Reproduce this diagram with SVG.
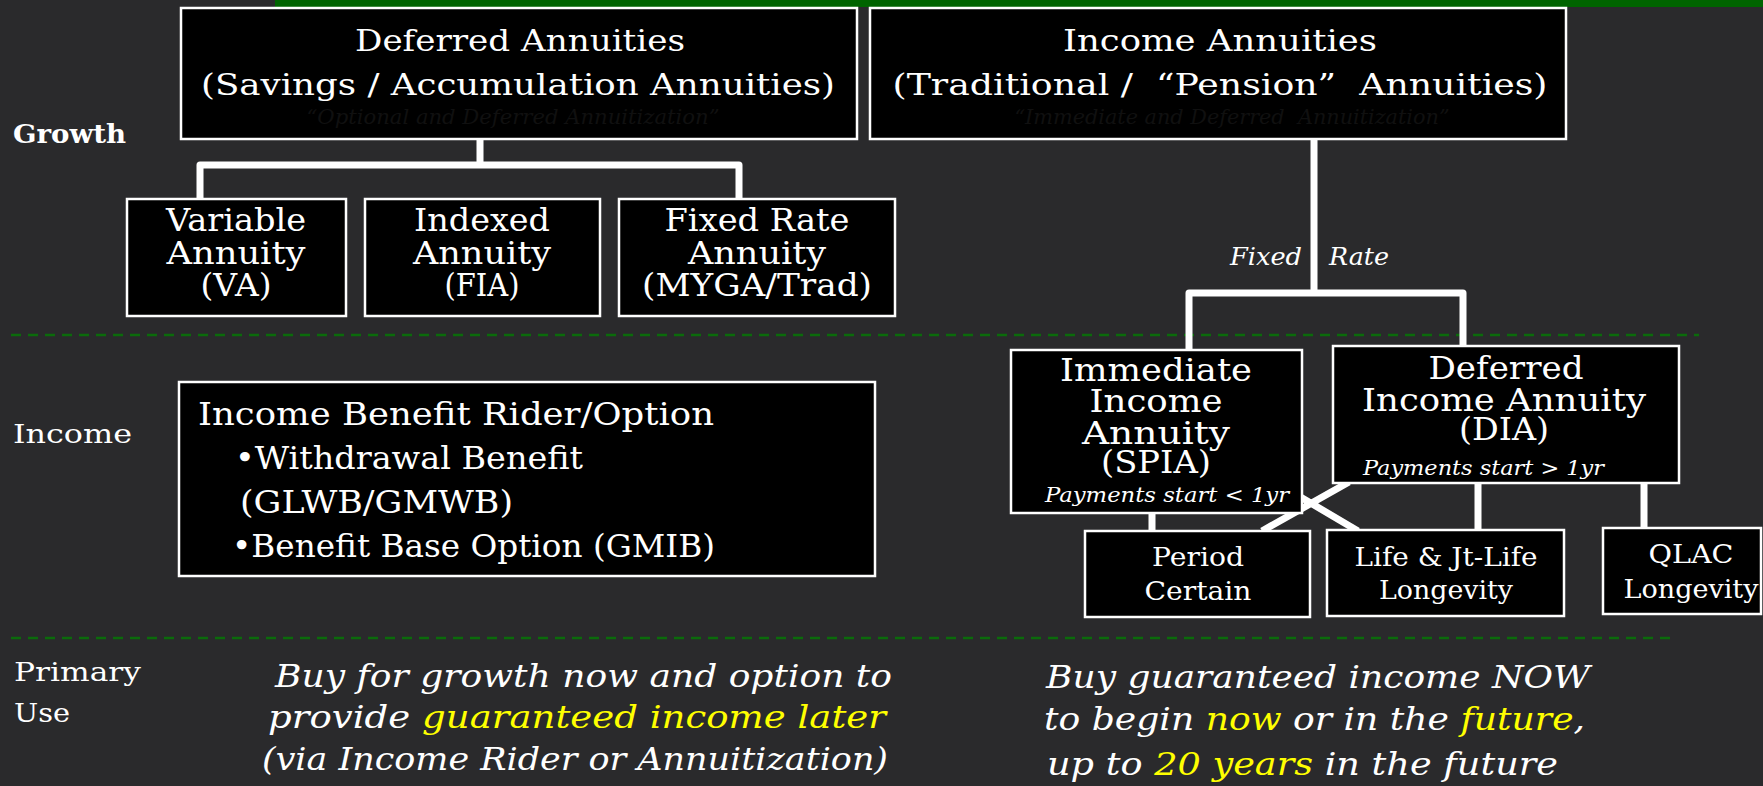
<svg xmlns="http://www.w3.org/2000/svg" width="1763" height="786" viewBox="0 0 1763 786">
<style>
.bg{fill:#2a2a2c}
.box{fill:#000;stroke:#fff;stroke-width:2.5}
.t{font-family:'DejaVu Serif','Liberation Serif',serif;fill:#fff}
.c{text-anchor:middle}
.it{font-style:italic}
.y{fill:#ffff00}
.faint{fill:#101010;font-style:italic}
.conn{fill:none;stroke:#fff;stroke-width:7;stroke-linejoin:round}
.dash{fill:none;stroke:#0b6b0b;stroke-width:2.5;stroke-dasharray:10 7}
</style>
<rect class="bg" x="0" y="0" width="1763" height="786"/>
<rect x="275" y="0" width="1488" height="7" fill="#006400"/>

<g id="dividers">
<line class="dash" x1="11" y1="335" x2="1699" y2="335"/>
<line class="dash" x1="11" y1="638" x2="1673" y2="638"/>
</g>

<g id="row-labels">
<text class="t" x="13" y="143" font-size="26" font-weight="bold" textLength="113" lengthAdjust="spacingAndGlyphs">Growth</text>
<text class="t" x="13" y="443" font-size="26" textLength="119" lengthAdjust="spacingAndGlyphs">Income</text>
<text class="t" x="14" y="681" font-size="26" textLength="127" lengthAdjust="spacingAndGlyphs">Primary</text>
<text class="t" x="14" y="722" font-size="26" textLength="56" lengthAdjust="spacingAndGlyphs">Use</text>
</g>

<g id="connectors">
<path class="conn" d="M480,139 V165 M200,199 V165 H739 V199"/>
<path class="conn" d="M1314,139 V293 M1189,350 V293 H1463 V346"/>
<path class="conn" d="M1152,512 V531 M1478,483 V530 M1644,483 V528"/>
<path class="conn" d="M1349,482 L1262,531 M1292,492 L1358,531"/>
<text class="t it" x="1230" y="265" font-size="25" textLength="72" lengthAdjust="spacingAndGlyphs">Fixed</text>
<text class="t it" x="1329" y="265" font-size="25" textLength="60" lengthAdjust="spacingAndGlyphs">Rate</text>
</g>

<g id="deferred-annuities">
<rect class="box" x="181" y="8" width="676" height="131"/>
<text class="t c" x="520" y="51" font-size="30" textLength="330" lengthAdjust="spacingAndGlyphs">Deferred Annuities</text>
<text class="t c" x="518" y="95" font-size="30" textLength="634" lengthAdjust="spacingAndGlyphs">(Savings / Accumulation Annuities)</text>
<text class="t c faint" x="513" y="124" font-size="20" textLength="413" lengthAdjust="spacingAndGlyphs">“Optional and Deferred Annuitization”</text>
</g>

<g id="income-annuities">
<rect class="box" x="870" y="8" width="696" height="131"/>
<text class="t c" x="1220" y="51" font-size="30" textLength="314" lengthAdjust="spacingAndGlyphs">Income Annuities</text>
<text class="t c" x="1220" y="95" font-size="30" textLength="655" lengthAdjust="spacingAndGlyphs" xml:space="preserve">(Traditional /  “Pension”  Annuities)</text>
<text class="t c faint" x="1232" y="124" font-size="20" textLength="435" lengthAdjust="spacingAndGlyphs" xml:space="preserve">“Immediate and Deferred  Annuitization”</text>
</g>

<g id="variable-annuity">
<rect class="box" x="127" y="199" width="219" height="117"/>
<text class="t c" x="236" y="231" font-size="32" textLength="140" lengthAdjust="spacingAndGlyphs">Variable</text>
<text class="t c" x="236" y="264" font-size="32" textLength="139" lengthAdjust="spacingAndGlyphs">Annuity</text>
<text class="t c" x="236" y="296" font-size="32" textLength="71" lengthAdjust="spacingAndGlyphs">(VA)</text>
</g>

<g id="indexed-annuity">
<rect class="box" x="365" y="199" width="235" height="117"/>
<text class="t c" x="482" y="231" font-size="32" textLength="136" lengthAdjust="spacingAndGlyphs">Indexed</text>
<text class="t c" x="482" y="264" font-size="32" textLength="138" lengthAdjust="spacingAndGlyphs">Annuity</text>
<text class="t c" x="482" y="296" font-size="32" textLength="75" lengthAdjust="spacingAndGlyphs">(FIA)</text>
</g>

<g id="fixed-rate-annuity">
<rect class="box" x="619" y="199" width="276" height="117"/>
<text class="t c" x="757" y="231" font-size="32" textLength="185" lengthAdjust="spacingAndGlyphs">Fixed Rate</text>
<text class="t c" x="757" y="264" font-size="32" textLength="138" lengthAdjust="spacingAndGlyphs">Annuity</text>
<text class="t c" x="757" y="296" font-size="32" textLength="230" lengthAdjust="spacingAndGlyphs">(MYGA/Trad)</text>
</g>

<g id="income-benefit-rider">
<rect class="box" x="179" y="382" width="696" height="194"/>
<text class="t" x="198" y="425" font-size="32" textLength="516" lengthAdjust="spacingAndGlyphs">Income Benefit Rider/Option</text>
<text class="t" x="235" y="469" font-size="32" textLength="348" lengthAdjust="spacingAndGlyphs">•Withdrawal Benefit</text>
<text class="t" x="240" y="513" font-size="32" textLength="273" lengthAdjust="spacingAndGlyphs">(GLWB/GMWB)</text>
<text class="t" x="232" y="557" font-size="32" textLength="483" lengthAdjust="spacingAndGlyphs">•Benefit Base Option (GMIB)</text>
</g>

<g id="immediate-income-annuity">
<rect class="box" x="1011" y="350" width="291" height="163"/>
<text class="t c" x="1156" y="381" font-size="32" textLength="192" lengthAdjust="spacingAndGlyphs">Immediate</text>
<text class="t c" x="1156" y="412" font-size="32" textLength="133" lengthAdjust="spacingAndGlyphs">Income</text>
<text class="t c" x="1156" y="444" font-size="32" textLength="148" lengthAdjust="spacingAndGlyphs">Annuity</text>
<text class="t c" x="1156" y="473" font-size="32" textLength="110" lengthAdjust="spacingAndGlyphs">(SPIA)</text>
<text class="t c it" x="1167" y="502" font-size="21" textLength="244" lengthAdjust="spacingAndGlyphs">Payments start &lt; 1yr</text>
</g>

<g id="deferred-income-annuity">
<rect class="box" x="1333" y="346" width="346" height="137"/>
<text class="t c" x="1506" y="379" font-size="32" textLength="155" lengthAdjust="spacingAndGlyphs">Deferred</text>
<text class="t c" x="1504" y="411" font-size="32" textLength="284" lengthAdjust="spacingAndGlyphs">Income Annuity</text>
<text class="t c" x="1504" y="440" font-size="32" textLength="90" lengthAdjust="spacingAndGlyphs">(DIA)</text>
<text class="t it" x="1363" y="475" font-size="21" textLength="241" lengthAdjust="spacingAndGlyphs">Payments start &gt; 1yr</text>
</g>

<g id="period-certain">
<rect class="box" x="1085" y="531" width="225" height="86"/>
<text class="t c" x="1198" y="566" font-size="26" textLength="92" lengthAdjust="spacingAndGlyphs">Period</text>
<text class="t c" x="1198" y="600" font-size="26" textLength="107" lengthAdjust="spacingAndGlyphs">Certain</text>
</g>

<g id="life-longevity">
<rect class="box" x="1327" y="530" width="237" height="86"/>
<text class="t c" x="1446" y="566" font-size="26" textLength="183" lengthAdjust="spacingAndGlyphs">Life &amp; Jt-Life</text>
<text class="t c" x="1446" y="599" font-size="26" textLength="134" lengthAdjust="spacingAndGlyphs">Longevity</text>
</g>

<g id="qlac-longevity">
<rect class="box" x="1603" y="528" width="158" height="86"/>
<text class="t c" x="1691" y="563" font-size="26" textLength="85" lengthAdjust="spacingAndGlyphs">QLAC</text>
<text class="t c" x="1691" y="598" font-size="26" textLength="135" lengthAdjust="spacingAndGlyphs">Longevity</text>
</g>

<g id="primary-use-deferred">
<text class="t it" x="275" y="687" font-size="32" textLength="617" lengthAdjust="spacingAndGlyphs">Buy for growth now and option to</text>
<text class="t it" x="268" y="728" font-size="32" textLength="618" lengthAdjust="spacingAndGlyphs">provide <tspan class="y">guaranteed income later</tspan></text>
<text class="t it" x="262" y="770" font-size="32" textLength="626" lengthAdjust="spacingAndGlyphs">(via Income Rider or Annuitization)</text>
</g>

<g id="primary-use-income">
<text class="t it" x="1046" y="688" font-size="32" textLength="544" lengthAdjust="spacingAndGlyphs">Buy guaranteed income NOW</text>
<text class="t it" x="1044" y="730" font-size="32" textLength="541" lengthAdjust="spacingAndGlyphs">to begin <tspan class="y">now</tspan> or in the <tspan class="y">future</tspan>,</text>
<text class="t it" x="1047" y="775" font-size="32" textLength="511" lengthAdjust="spacingAndGlyphs">up to <tspan class="y">20 years</tspan> in the future</text>
</g>
</svg>
